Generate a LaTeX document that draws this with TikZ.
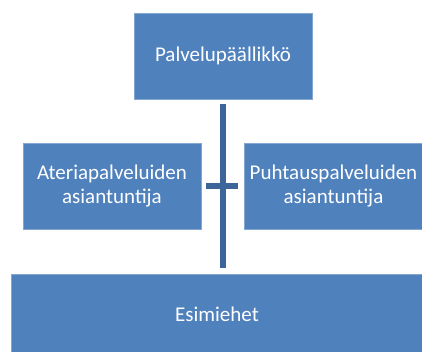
\documentclass[tikz,border=0pt]{standalone}
\usepackage{fontspec}
\setmainfont{Carlito}
\usetikzlibrary{positioning}

\definecolor{boxcolor}{rgb}{0.310000, 0.506000, 0.741000}
\definecolor{linkcolor}{rgb}{0.235000, 0.400000, 0.600000}

\begin{document}
\begin{tikzpicture}[x=1pt,y=-1pt,
  orgbox/.style={fill=boxcolor, draw=boxcolor!70!white, line width=0.8pt,
    text=white, align=center, inner sep=0pt,
    font=\fontsize{21}{24}\selectfont},
  link/.style={draw=linkcolor, line width=6pt}]
\useasboundingbox (0,0) rectangle (422,351);
% boxes
\node[orgbox, minimum width=178, minimum height=86] (paallikko) at (223,56)
  {Palvelupäällikkö};
\node[orgbox, minimum width=178, minimum height=86] (ateria) at (112,186)
  {Ateriapalveluiden\\asiantuntija};
\node[orgbox, minimum width=178, minimum height=86] (puhtaus) at (333.5,186)
  {Puhtauspalveluiden\\asiantuntija};
\node[orgbox, minimum width=412, minimum height=80] (esimiehet) at (217,314)
  {Esimiehet};
% connectors
\draw[link, shorten <=5pt, shorten >=6pt]
  (paallikko.south) -- (paallikko.south |- esimiehet.north);
\draw[link, shorten <=5pt, shorten >=6pt] (ateria.east) -- (puhtaus.west);
\end{tikzpicture}
\end{document}
